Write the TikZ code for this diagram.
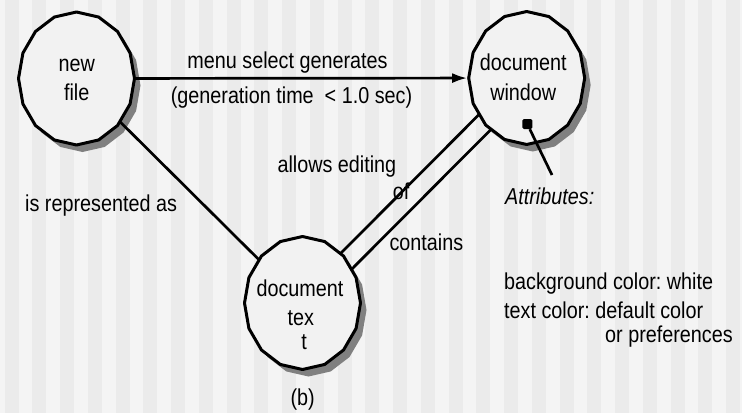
\documentclass[tikz,border=0pt]{standalone}
\usepackage{fontspec}
\setmainfont{Liberation Sans}[FakeStretch=0.86]
\usetikzlibrary{calc,arrows.meta,shapes.geometric}
\definecolor{bglight}{HTML}{F4F4F4}
\definecolor{bgdark}{HTML}{EBEBEB}
\definecolor{ringfill}{HTML}{F2F2F2}
\definecolor{shadecol}{HTML}{808080}
\newcommand{\ringshadow}[1]{\fill[shadecol,shift={($(#1.center)+(6pt,-7pt)$)}] (0:58pt and 66.5pt) \foreach \a in {22.5,45,...,337.5}{ -- (\a:58pt and 66.5pt)} -- cycle;}
\newcommand{\ringbody}[1]{\filldraw[ringst,shift={(#1.center)}] (0:58pt and 66.5pt) \foreach \a in {22.5,45,...,337.5}{ -- (\a:58pt and 66.5pt)} -- cycle;}
\tikzset{
  ringnode/.style={ellipse, minimum width=119pt, minimum height=136pt, inner sep=0pt, outer sep=0pt},
  ringst/.style={draw=black, fill=ringfill, line width=3pt, line join=round},
  conn/.style={draw=black, line width=2.7pt},
  lbl/.style={inner sep=0pt, font=\fontsize{23}{28}\selectfont\frenchspacing, anchor=base},
  lblw/.style={lbl, anchor=base west},
  sqnode/.style={fill=black, minimum size=10pt, inner sep=0pt, rounded corners=1.5pt}
}
\begin{document}
\begin{tikzpicture}[x=1pt,y=-1pt]
\useasboundingbox (0,0) rectangle (742,413);
% striped background
\fill[bglight] (0,0) rectangle (742,413);
\foreach \k in {0,...,26}{
  \fill[bgdark] ({4.7+27.75*\k},0) rectangle ({4.7+27.75*\k+13.875},413);
}
% circle nodes
\node[ringnode] (nf) at (76.5,78.5) {};
\node[ringnode] (dw) at (526.7,78) {};
\node[ringnode] (dt) at (302.5,303) {};
% shadows
\ringshadow{nf}
\ringshadow{dw}
\ringshadow{dt}
% connectors
\draw[conn] (nf.center) -- (dt.center);
\draw[conn] ($(dw.center)!8pt!-90:(dt.center)$) -- ($(dt.center)!8pt!90:(dw.center)$);
\draw[conn] ($(dw.center)!11pt!90:(dt.center)$) -- ($(dt.center)!11pt!-90:(dw.center)$);
% circles
\ringbody{nf}
\ringbody{dw}
\ringbody{dt}
% arrow
\draw[conn,-{Latex[length=15pt,width=10pt]}] (nf) -- (dw);
% attributes pointer
\node[sqnode] (attr) at (527.3,124) {};
\coordinate (attrEnd) at (552,175);
\draw[conn] (attr) -- (attrEnd);
% circle texts
\node[lbl] (nf1) at (76.7,71) {new};
\node[lbl] (nf2) at (76.7,100) {file};
\node[lbl] (dw1) at (523.3,70.7) {document};
\node[lbl] (dw2) at (523.3,100) {window};
\node[lbl] (dt1) at (300,296) {document};
\node[lbl] (dt2) at (300.8,325) {tex};
\node[lbl] (dt3) at (304,349.3) {t};
\node[lbl] (b) at (302.7,405) {(b)};
% connector labels
\node[lbl] (l1) at (287.5,68.3) {menu select generates};
\node[lbl] (l2) at (291.5,103.3) {(generation time\ \ < 1.0 sec)};
\node[lblw] (l3) at (277.3,172.3) {allows editing};
\node[lblw] (l4) at (392.7,199.3) {of};
\node[lblw] (l5) at (389.3,250) {contains};
\node[lblw] (l6) at (25,211.7) {is represented as};
% attributes
\node[lblw] (a0) at (505,204) {\itshape Attributes:};
\node[lblw] (a1) at (504,289.3) {background color: white};
\node[lblw] (a2) at (504,318.3) {text color: default color};
\node[lblw] (a3) at (605,342.7) {or preferences};
\end{tikzpicture}
\end{document}
